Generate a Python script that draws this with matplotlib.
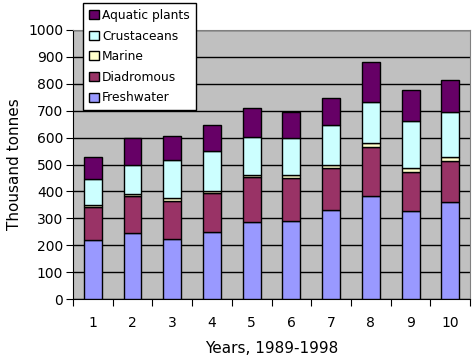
import matplotlib.pyplot as plt
import numpy as np

years = ['1', '2', '3', '4', '5', '6', '7', '8', '9', '10']
# layer heights (cumulative tops minus the layer below)
freshwater = [218, 244, 224, 248, 285, 292, 330, 383, 326, 359]
diadromous = [123, 138, 142, 147, 167, 159, 156, 183, 147, 155]
marine = [8, 7, 8, 8, 9, 10, 12, 13, 13, 14]
crustaceans = [97, 109, 142, 146, 140, 136, 148, 152, 174, 166]
aquatic_plants = [81, 99, 90, 97, 108, 99, 100, 149, 117, 119]

series = [
    ('Freshwater', freshwater, '#9999FF'),
    ('Diadromous', diadromous, '#993366'),
    ('Marine', marine, '#FFFFCC'),
    ('Crustaceans', crustaceans, '#CCFFFF'),
    ('Aquatic plants', aquatic_plants, '#660066'),
]

fig = plt.figure(figsize=(4.73, 3.6), dpi=100)
ax = fig.add_axes([0.154, 0.169, 0.840, 0.748])
ax.set_facecolor('#C0C0C0')

x = np.arange(len(years))
bottom = np.zeros(len(years))
handles = []
for name, vals, col in series:
    b = ax.bar(x, vals, 0.45, bottom=bottom, color=col, edgecolor='black',
               linewidth=1, label=name, zorder=3)
    bottom += np.array(vals)
    handles.append(b)

ax.set_xlim(-0.5, len(years) - 0.5)
ax.set_ylim(0, 1000)
ax.set_yticks(range(0, 1001, 100))
ax.yaxis.grid(True, color='black', linewidth=1, zorder=0)
ax.set_axisbelow(True)

ax.set_xticks(np.arange(-0.5, len(years), 1.0))
ax.set_xticklabels([])
ax.set_xticks(x, minor=True)
ax.set_xticklabels(years, minor=True)
ax.tick_params(axis='x', which='minor', length=0, pad=12, labelsize=10)
ax.tick_params(axis='x', which='major', length=5, direction='out')
ax.tick_params(axis='y', length=5, direction='out', labelsize=10, pad=2)

for s in ['top', 'right']:
    ax.spines[s].set_color('#808080')
for s in ['left', 'bottom']:
    ax.spines[s].set_color('black')

ax.set_ylabel('Thousand tonnes', fontsize=11, labelpad=4)
ax.set_xlabel('Years, 1989-1998', fontsize=11, labelpad=8)

leg = fig.legend(handles[::-1], [s[0] for s in series][::-1],
                 loc='upper left', bbox_to_anchor=(0.176, 0.992),
                 fontsize=8.8, frameon=True, fancybox=False, framealpha=1,
                 handlelength=0.75, handleheight=0.75, handletextpad=0.3,
                 labelspacing=0.62, borderpad=0.5, borderaxespad=0)
leg.get_frame().set_edgecolor('black')
leg.get_frame().set_facecolor('white')
leg.get_frame().set_linewidth(1)

fig.savefig('out.png', dpi=100)
